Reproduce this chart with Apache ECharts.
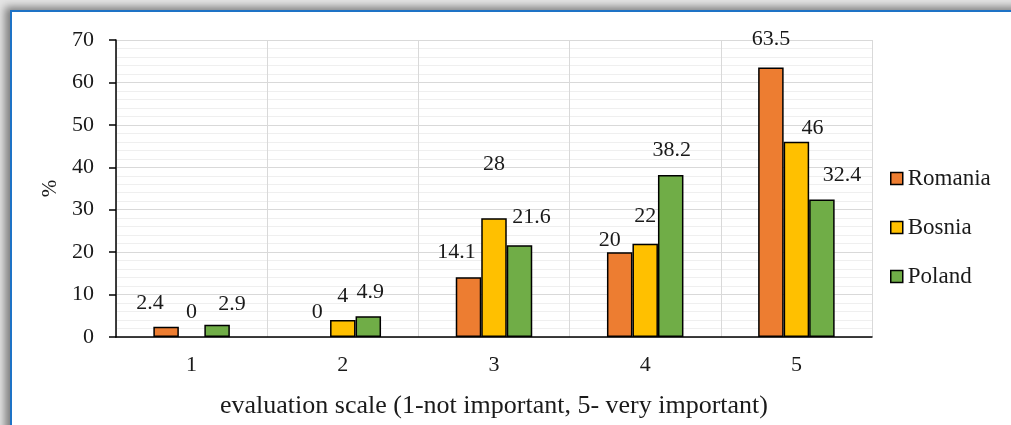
<!DOCTYPE html>
<html>
<head>
<meta charset="utf-8">
<script src="https://cdn.jsdelivr.net/npm/echarts@6/dist/echarts.min.js"></script>
<style>
  html, body { margin: 0; padding: 0; width: 1011px; height: 425px; overflow: hidden; background: #e4e4e4; }
  #frame { position: absolute; left: 10px; top: 10px; width: 1040px; height: 460px;
           background: #ffffff; border-left: 2px solid #1e73c6; border-top: 2px solid #1e73c6;
           box-shadow: -5px -3px 8px rgba(0,0,0,0.45); }
  #chart { position: absolute; left: 0; top: 0; width: 1011px; height: 425px; }
</style>
</head>
<body>
<div id="frame"></div>
<div id="chart"></div>
<script>
// Share of respondents per rating, by country
const categories = ['1', '2', '3', '4', '5'];
const romania = [2.4, 0, 14.1, 20, 63.5];
const bosnia  = [0, 4, 28, 22, 46];
const poland  = [2.9, 4.9, 21.6, 38.2, 32.4];
const yTicks  = [0, 10, 20, 30, 40, 50, 60, 70];

// Hand-placed label nudges [dx, dy] per bar
const romaniaLabelShift = [[-16, -8], [0, -9], [-12, -9], [-10, 4], [0, -12]];
const bosniaLabelShift  = [[0, -9], [0, -8], [0, -38], [0, -11], [16, 2]];
const polandLabelShift  = [[15, -4], [2, -8], [12, -12], [1, -9], [20, -8]];

const FONT = '"Liberation Serif", "Times New Roman", serif';
const TEXT = '#1a1a1a';

function makeSeries(name, values, shifts, color) {
  return {
    name: name,
    type: 'bar',
    barWidth: 25.5,
    barGap: '0%',
    itemStyle: { color: color, borderColor: '#000', borderWidth: 1.5 },
    data: values.map((v, i) => ({
      value: v,
      // an empty bar gets no outline, only its label
      itemStyle: v === 0 ? { borderWidth: 0 } : undefined,
      label: { offset: shifts[i] }
    })),
    label: {
      show: true, position: 'top', distance: 5,
      fontFamily: FONT, fontSize: 22, color: TEXT
    }
  };
}

const chart = echarts.init(document.getElementById('chart'));
chart.setOption({
  animation: false,
  grid: { left: 116, right: 139, top: 40, bottom: 88 },
  legend: {
    orient: 'vertical', left: 890, top: 167, padding: 0,
    itemWidth: 12, itemHeight: 12, itemGap: 26,
    icon: 'rect',
    itemStyle: { borderColor: '#000', borderWidth: 1.5 },
    textStyle: { fontFamily: FONT, fontSize: 23, color: TEXT },
    data: ['Romania', 'Bosnia', 'Poland']
  },
  xAxis: {
    type: 'category',
    data: categories,
    boundaryGap: true,
    axisLine: { lineStyle: { color: '#000', width: 1.5 } },
    axisTick: { show: false },
    axisLabel: { fontFamily: FONT, fontSize: 22, color: TEXT, margin: 17 },
    splitLine: { show: true, interval: 0, lineStyle: { color: '#d9d9d9', width: 1 } },
    name: 'evaluation scale (1-not important, 5- very important)',
    nameLocation: 'middle', nameGap: 56,
    nameTextStyle: { fontFamily: FONT, fontSize: 26, color: TEXT }
  },
  yAxis: {
    type: 'value',
    min: yTicks[0], max: yTicks[yTicks.length - 1], interval: 10,
    axisLine: { show: true, lineStyle: { color: '#000', width: 1.5 } },
    axisTick: { show: true, inside: false, length: 7, lineStyle: { color: '#000', width: 1.5 } },
    axisLabel: { fontFamily: FONT, fontSize: 22, color: TEXT, margin: 22 },
    splitLine: { show: true, lineStyle: { color: '#d9d9d9', width: 1 } },
    minorTick: { show: false, splitNumber: 5 },
    minorSplitLine: { show: true, lineStyle: { color: '#efefef', width: 1 } },
    name: '%', nameLocation: 'middle', nameGap: 48, nameRotate: 90,
    nameTextStyle: { fontFamily: FONT, fontSize: 21, color: TEXT }
  },
  series: [
    makeSeries('Romania', romania, romaniaLabelShift, '#ED7D31'),
    makeSeries('Bosnia', bosnia, bosniaLabelShift, '#FFC000'),
    makeSeries('Poland', poland, polandLabelShift, '#70AD47')
  ]
});
</script>
</body>
</html>
